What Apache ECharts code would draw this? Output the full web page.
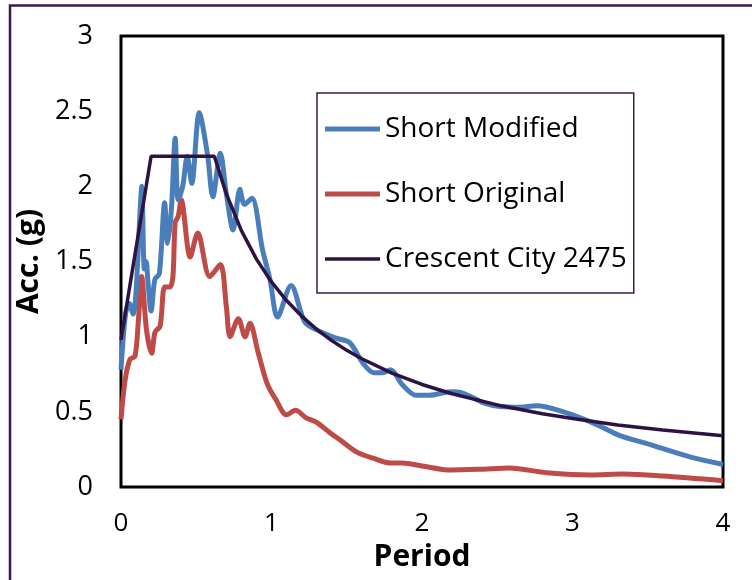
<!DOCTYPE html>
<html>
<head>
<meta charset="utf-8">
<script src="https://cdn.jsdelivr.net/npm/echarts@6/dist/echarts.min.js"></script>
<style>
  html, body { margin: 0; padding: 0; background: #fff; }
  #chart { width: 752px; height: 580px; }
</style>
</head>
<body>
<div id="chart"></div>
<script>
// Response spectra: spectral acceleration (g) against period (s)
const seriesNames = ['Short Modified', 'Short Original', 'Crescent City 2475'];

const xTicks = [0, 1, 2, 3, 4];
const yTicks = [0, 0.5, 1, 1.5, 2, 2.5, 3];

const modifiedPeriod = [0, 0.03, 0.055, 0.08, 0.1, 0.12, 0.138, 0.155, 0.167, 0.18, 0.2, 0.225, 0.255, 0.29, 0.31, 0.335, 0.36, 0.38, 0.41, 0.44, 0.47, 0.52, 0.575, 0.61, 0.66, 0.7, 0.745, 0.79, 0.82, 0.87, 0.94, 0.99, 1.04, 1.13, 1.22, 1.30, 1.43, 1.52, 1.61, 1.68, 1.74, 1.79, 1.87, 1.96, 2.05, 2.19, 2.27, 2.41, 2.52, 2.65, 2.76, 2.94, 3.14, 3.32, 3.49, 3.78, 4.0];
const modifiedAcc = [0.78, 1.15, 1.22, 1.15, 1.3, 1.7, 2.0, 1.45, 1.5, 1.35, 1.17, 1.38, 1.42, 1.89, 1.62, 1.85, 2.32, 1.91, 2.0, 2.2, 2.02, 2.49, 2.21, 1.93, 2.22, 1.95, 1.71, 1.98, 1.88, 1.92, 1.58, 1.38, 1.13, 1.34, 1.10, 1.045, 0.99, 0.96, 0.82, 0.76, 0.76, 0.78, 0.68, 0.61, 0.61, 0.634, 0.625, 0.56, 0.535, 0.53, 0.54, 0.50, 0.425, 0.34, 0.29, 0.20, 0.15];

const originalPeriod = [0, 0.027, 0.06, 0.093, 0.115, 0.137, 0.17, 0.204, 0.226, 0.26, 0.29, 0.325, 0.345, 0.36, 0.38, 0.40, 0.46, 0.51, 0.59, 0.66, 0.70, 0.725, 0.78, 0.824, 0.857, 0.91, 0.97, 1.03, 1.10, 1.16, 1.23, 1.30, 1.39, 1.46, 1.57, 1.68, 1.79, 1.87, 2.0, 2.19, 2.39, 2.58, 2.83, 3.12, 3.34, 3.60, 4.0];
const originalAcc = [0.45, 0.71, 0.85, 0.87, 1.1, 1.40, 1.04, 0.89, 1.03, 1.07, 1.33, 1.33, 1.40, 1.76, 1.80, 1.91, 1.53, 1.69, 1.40, 1.48, 1.2, 1.0, 1.12, 1.0, 1.09, 0.9, 0.69, 0.58, 0.48, 0.51, 0.46, 0.43, 0.36, 0.31, 0.23, 0.19, 0.16, 0.16, 0.14, 0.113, 0.118, 0.126, 0.095, 0.08, 0.086, 0.073, 0.042];

const designPeriod = [0, 0.2, 0.62, 0.7, 0.8, 0.9, 1.0, 1.1, 1.2, 1.3, 1.4, 1.5, 1.6, 1.8, 2.0, 2.2, 2.5, 2.8, 3.0, 3.3, 3.6, 4.0];
const designAcc = [0.98, 2.2, 2.2, 1.95, 1.705, 1.516, 1.364, 1.24, 1.137, 1.049, 0.974, 0.909, 0.853, 0.758, 0.682, 0.62, 0.546, 0.487, 0.455, 0.413, 0.379, 0.341];

const colors = ['#4A7EBB', '#BE4B48', '#2E1244'];
const lineWidths = [5, 5, 3.5];
const font = "'Open Sans', sans-serif";

const pairs = (xs, ys) => xs.map((x, i) => [x, ys[i]]);

// Legend swatch: a horizontal bar of the series' line width, centred in a 55x14 box
const swatch = w => {
  const a = 7 - w / 2, b = 7 + w / 2;
  return `path://M0,0 L0.001,0 Z M0,${a} L55,${a} L55,${b} L0,${b} Z M0,14 L0.001,14 Z`;
};

const chart = echarts.init(document.getElementById('chart'), null, { renderer: 'canvas' });

chart.setOption({
  animation: false,
  backgroundColor: '#ffffff',
  color: colors,
  grid: {
    left: 121, right: 29, top: 36, bottom: 93,
    show: true, borderColor: '#000', borderWidth: 3, backgroundColor: 'transparent'
  },
  graphic: [{
    type: 'rect',
    shape: { x: 10, y: 5.5, width: 900, height: 700 },
    style: { fill: 'none', stroke: '#3A1A4C', lineWidth: 2.5 },
    silent: true, z: 0
  }],
  legend: {
    orient: 'vertical',
    left: 317, top: 93,
    padding: [22, 7, 20, 8],
    itemGap: 37,
    itemWidth: 55, itemHeight: 14,
    backgroundColor: '#fff',
    borderColor: '#3A1A4C', borderWidth: 1.5,
    textStyle: { fontFamily: font, fontSize: 28, color: '#000' },
    data: seriesNames.map((n, i) => ({ name: n, icon: swatch(lineWidths[i]) }))
  },
  xAxis: {
    type: 'value', min: 0, max: 4, interval: 1,
    name: 'Period', nameLocation: 'middle', nameGap: 55,
    nameTextStyle: { fontFamily: font, fontSize: 30, fontWeight: 'bold', color: '#000' },
    axisLine: { show: false }, axisTick: { show: false }, splitLine: { show: false },
    axisLabel: {
      fontFamily: font, fontSize: 26, color: '#000', margin: 24,
      formatter: v => xTicks.includes(v) ? String(v) : ''
    }
  },
  yAxis: {
    type: 'value', min: 0, max: 3, interval: 0.5,
    name: 'Acc. (g)', nameLocation: 'middle', nameGap: 63, nameRotate: 90,
    nameTextStyle: { fontFamily: font, fontSize: 30, fontWeight: 'bold', color: '#000' },
    axisLine: { show: false }, axisTick: { show: false }, splitLine: { show: false },
    axisLabel: {
      fontFamily: font, fontSize: 27, color: '#000', margin: 28,
      formatter: v => yTicks.includes(v) ? String(v) : ''
    }
  },
  series: [
    {
      name: seriesNames[0], type: 'line', data: pairs(modifiedPeriod, modifiedAcc),
      symbol: 'none', smooth: 0.3, z: 3,
      lineStyle: { width: lineWidths[0], color: colors[0] }
    },
    {
      name: seriesNames[1], type: 'line', data: pairs(originalPeriod, originalAcc),
      symbol: 'none', smooth: 0.3, z: 2,
      lineStyle: { width: lineWidths[1], color: colors[1] }
    },
    {
      name: seriesNames[2], type: 'line', data: pairs(designPeriod, designAcc),
      symbol: 'none', smooth: false, z: 4,
      lineStyle: { width: lineWidths[2], color: colors[2] }
    }
  ]
});
</script>
</body>
</html>
